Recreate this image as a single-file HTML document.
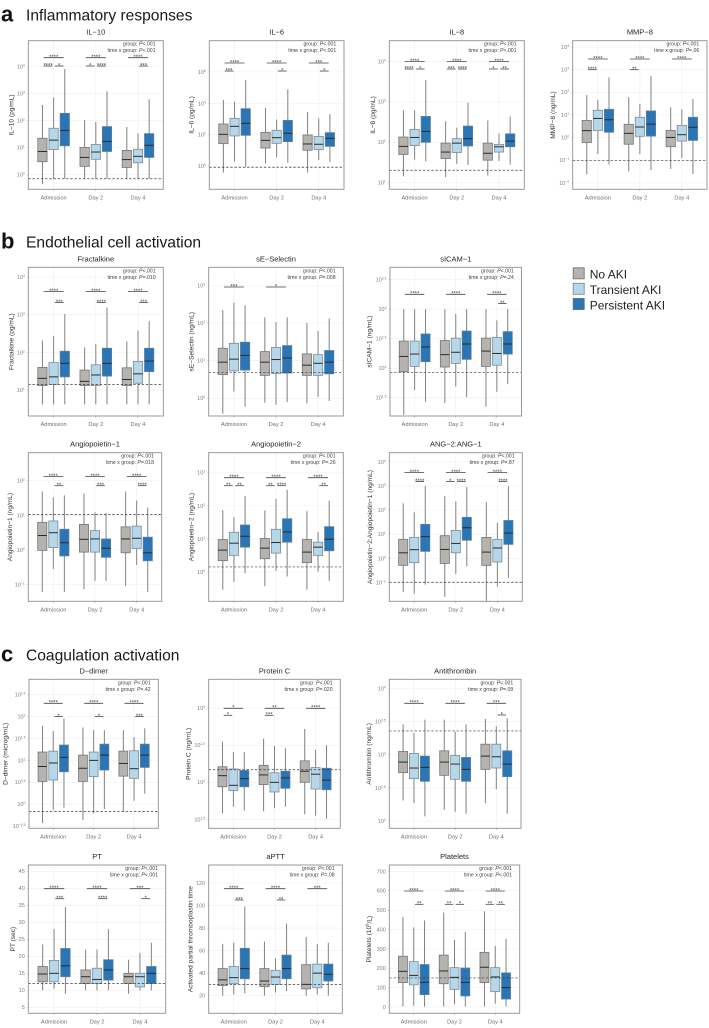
<!DOCTYPE html>
<html lang="en">
<head>
<meta charset="utf-8">
<title>AKI biomarker boxplots</title>
<style>
html,body{margin:0;padding:0;background:#fff;width:709px;height:1028px;overflow:hidden}
svg{display:block;font-family:"Liberation Sans",sans-serif}
</style>
</head>
<body>
<svg id="chart" xmlns="http://www.w3.org/2000/svg" width="709" height="1028" viewBox="0 0 709 1028">
  <text x="1" y="21.7" font-size="22" font-weight="bold" fill="#111">a</text>
  <text x="26" y="20.7" font-size="15.6" fill="#1a1a1a">Inflammatory responses</text>
  <text x="1" y="248.3" font-size="22" font-weight="bold" fill="#111">b</text>
  <text x="26" y="247.7" font-size="15.6" fill="#1a1a1a">Endothelial cell activation</text>
  <text x="1" y="661.7" font-size="22" font-weight="bold" fill="#111">c</text>
  <text x="26" y="660.7" font-size="15.6" fill="#1a1a1a">Coagulation activation</text>
  <g>
    <g>
      <rect x="573.2" y="267.8" width="11" height="11" fill="#b5b3b0" stroke="#777" stroke-width="0.9"/>
      <text x="589.7" y="278.3" font-size="12" fill="#222">No AKI</text>
    </g>
    <g>
      <rect x="573.2" y="283.3" width="11" height="11" fill="#b6d7e9" stroke="#7c8c98" stroke-width="0.9"/>
      <text x="589.7" y="294" font-size="12" fill="#222">Transient AKI</text>
    </g>
    <g>
      <rect x="573.2" y="298.5" width="11" height="11" fill="#2a75b5" stroke="#55708a" stroke-width="0.9"/>
      <text x="589.7" y="309.3" font-size="12" fill="#222">Persistent AKI</text>
    </g>
  </g>
</svg>
<script>
// Shared categories
const categories = ['Admission', 'Day 2', 'Day 4'];
const groups = ['No AKI', 'Transient AKI', 'Persistent AKI'];

// Each values array: 9 rows (3 groups within 3 categories), row = [low, q1, median, q3, high].
// *Log10 arrays hold log10 of the measurement, on a log axis.
const il10TickLog10 = [0, 1, 2, 3, 4];
const il10Ref = -0.15;
const il10Log10 = [
  [-.35,.48,.86,1.35,2.58],[-.15,.93,1.28,1.72,2.86],[-.15,1.07,1.64,2.27,3.91],
  [-.15,.31,.64,1.01,2.02],[-.15,.57,.84,1.12,1.95],[-.15,.86,1.23,1.78,3.09],
  [-.15,.27,.56,.90,1.77],[-.15,.44,.68,.94,1.53],[-.15,.64,1.09,1.52,2.79]];
const il10Sig = [['****','****','*'],['****','*','****'],['****','','***']];
const il10Stats = ['P<.001','P<.001'];

const il6TickLog10 = [0, 2, 4, 6];
const il6Ref = -0.06;
const il6Log10 = [
  [-.40,1.44,2.03,2.69,4.21],[.30,1.93,2.54,3.05,4.11],[-.02,1.97,2.73,3.66,5.48],
  [.17,1.16,1.65,2.16,3.70],[.57,1.46,1.82,2.29,2.98],[.23,1.57,2.10,2.92,4.89],
  [-.40,1.02,1.42,1.99,3.45],[.40,1.06,1.40,1.90,3.05],[.28,1.27,1.78,2.14,3.32]];
const il6Sig = [['****','***',''],['****','','*'],['***','','*']];
const il6Stats = ['P<.001','P<.001'];

const il8TickLog10 = [1, 2, 3, 4];
const il8Ref = 1.31;
const il8Log10 = [
  [1.16,1.70,1.90,2.13,2.79],[1.57,1.92,2.12,2.32,2.79],[1.53,2.00,2.27,2.64,3.54],
  [1.14,1.60,1.76,1.98,2.52],[1.47,1.75,1.98,2.09,2.36],[1.44,1.91,2.09,2.40,2.98],
  [1.18,1.56,1.73,1.98,2.54],[1.54,1.76,1.89,1.95,2.22],[1.45,1.89,2.03,2.21,2.64]];
const il8Sig = [['****','****','*'],['****','***','****'],['****','*','**']];
const il8Stats = ['P<.001','P<.001'];

const mmp8TickLog10 = [-2, -1, 0, 1, 2, 3, 4];
const mmp8Ref = -1;
const mmp8Log10 = [
  [-1.62,-.22,.31,.76,1.88],[-.72,.31,.85,1.21,1.66],[-1.19,.24,.79,1.25,2.66],
  [-1.49,-.29,.19,.59,1.79],[-.72,.06,.47,.90,1.49],[-1.43,.07,.60,1.18,2.72],
  [-1.38,-.40,.01,.32,1.34],[-.90,-.15,.13,.54,1.25],[-1.60,-.12,.46,.90,1.71]];
const mmp8Sig = [['****','****',''],['****','**',''],['****','','']];
const mmp8Stats = ['P<.001','P=.06'];

const fractalkineTickLog10 = [1, 2, 3, 4];
const fractalkineRef = 1.15;
const fractalkineLog10 = [
  [.62,1.12,1.31,1.60,2.32],[.62,1.15,1.35,1.73,2.43],[.62,1.35,1.71,2.03,3.02],
  [.62,1.12,1.23,1.53,2.13],[.62,1.12,1.40,1.67,2.22],[.62,1.37,1.71,2.11,3.19],
  [.62,1.12,1.28,1.59,2.29],[.62,1.18,1.43,1.76,2.58],[.62,1.49,1.77,2.11,2.83]];
const fractalkineSig = [['****','','***'],['****','','****'],['****','','***']];
const fractalkineStats = ['P<.001','P=.010'];

const selectinTickLog10 = [0, 1, 2, 3];
const selectinRef = 0.69;
const selectinLog10 = [
  [-.41,.63,.96,1.33,2.34],[.18,.73,1.04,1.46,2.54],[-.22,.75,1.14,1.49,2.47],
  [-.12,.61,.96,1.24,2.15],[-.17,.66,1.03,1.35,2.02],[-.10,.67,1.07,1.40,2.15],
  [-.14,.61,.88,1.18,2.00],[.04,.61,.93,1.16,1.79],[-.07,.65,.96,1.27,2.12]];
const selectinSig = [['***','',''],['*','',''],['','','']];
const selectinStats = ['P<.001','P=.008'];

const sicamTickLog10 = [1.5, 2, 2.5, 3, 3.5];
const sicamRef = 1.93;
const sicamLog10 = [
  [1.21,1.94,2.20,2.46,3.00],[1.63,2.03,2.24,2.46,3.00],[1.43,2.11,2.36,2.58,3.00],
  [1.41,2.02,2.23,2.47,3.00],[1.69,2.08,2.27,2.51,2.92],[1.51,2.15,2.41,2.63,3.00],
  [1.35,2.03,2.29,2.51,3.00],[1.60,2.05,2.25,2.52,2.81],[1.73,2.24,2.41,2.62,3.00]];
const sicamSig = [['****','',''],['****','',''],['****','','**']];
const sicamStats = ['P<.001','P=.24'];

const ang1TickLog10 = [-1, 0, 1, 2];
const ang1Ref = 1.03;
const ang1Log10 = [
  [-1.21,-.01,.42,.80,1.69],[-.55,.07,.50,.84,1.52],[-1.21,-.17,.21,.60,1.58],
  [-1.13,-.06,.31,.74,1.63],[-.89,-.06,.32,.56,1.09],[-.89,-.21,.05,.32,1.07],
  [-1.03,-.08,.32,.67,1.69],[-.43,.04,.34,.69,1.43],[-1.21,-.31,-.08,.37,1.23]];
const ang1Sig = [['****','','**'],['****','','***'],['****','','****']];
const ang1Stats = ['P<.001','P=.018'];

const ang2TickLog10 = [0, 1, 2, 3];
const ang2Ref = 0.15;
const ang2Log10 = [
  [-.54,.34,.66,.98,1.87],[-.30,.50,.87,1.20,1.66],[-.04,.75,1.08,1.42,2.30],
  [-.43,.40,.72,1.01,1.86],[.03,.57,.89,1.29,2.21],[-.14,.90,1.21,1.61,2.49],
  [-.54,.28,.60,.98,1.84],[.01,.50,.75,.90,1.21],[-.27,.64,.99,1.37,2.16]];
const ang2Sig = [['****','**','**'],['****','**','****'],['****','','**']];
const ang2Stats = ['P<.001','P=.26'];

const ratioTickLog10 = [-1, 0, 1, 2, 3, 4];
const ratioRef = -0.99;
const ratioLog10 = [
  [-1.40,-.29,.23,.79,2.28],[-1.46,-.18,.36,.87,1.91],[-1.09,.29,.90,1.41,3.00],
  [-1.60,-.21,.37,.94,2.58],[-.64,.23,.62,1.16,2.36],[-.33,.75,1.27,1.70,2.96],
  [-1.78,-.29,.26,.87,2.33],[-1.17,-.15,.43,.79,1.48],[-.81,.58,1.05,1.57,3.00]];
const ratioSig = [['****','','****'],['****','*','****'],['****','','****']];
const ratioStats = ['P<.001','P=.87'];

const ddimerTickLog10 = [-.5, 0, .5, 1, 1.5, 2, 2.5];
const ddimerRef = -0.17;
const ddimerLog10 = [
  [-.43,.52,.86,1.19,1.79],[-.13,.55,.94,1.21,1.67],[-.08,.74,1.07,1.35,1.95],
  [-.36,.52,.82,1.12,1.75],[-.21,.63,1.00,1.19,1.69],[-.11,.78,1.12,1.37,1.69],
  [-.17,.64,.93,1.21,1.69],[.08,.59,.81,1.22,1.53],[.24,.84,1.12,1.37,1.73]];
const ddimerSig = [['****','','*'],['****','','*'],['****','','***']];
const ddimerStats = ['P<.001','P=.42'];

const proteinCTickLog10 = [1.5, 2, 2.5, 3];
const proteinCRef = 2.17;
const proteinCLog10 = [
  [1.58,1.94,2.09,2.21,2.55],[1.67,1.89,1.96,2.18,2.41],[1.62,1.94,2.05,2.16,2.41],
  [1.61,1.97,2.10,2.23,2.59],[1.65,1.87,2.00,2.13,2.49],[1.67,1.92,2.06,2.15,2.46],
  [1.57,2.00,2.15,2.29,2.72],[1.55,1.91,2.11,2.20,2.44],[1.51,1.90,2.03,2.19,2.50]];
const proteinCSig = [['*','*',''],['**','***',''],['****','','']];
const proteinCStats = ['P<.001','P=.020'];

const antithrombinTickLog10 = [2, 2.5, 3, 3.5, 4];
const antithrombinRef = 3.36;
const antithrombinLog10 = [
  [2.31,2.73,2.89,3.05,3.46],[2.27,2.64,2.80,3.02,3.33],[2.07,2.60,2.81,2.98,3.53],
  [2.17,2.69,2.89,3.06,3.53],[2.14,2.63,2.86,2.99,3.35],[2.11,2.60,2.78,2.96,3.46],
  [2.27,2.78,2.98,3.16,3.54],[2.48,2.80,2.97,3.16,3.43],[2.11,2.67,2.86,3.06,3.55]];
const antithrombinSig = [['****','',''],['****','',''],['***','','*']];
const antithrombinStats = ['P<.001','P=.09'];

const ptTicks = [5, 10, 15, 20, 25, 30, 35, 40, 45];
const ptRef = 12;
const ptValues = [
  [10,12.5,14.8,17,23.5],[10.5,12.5,15,18.8,28],[9,14,17.2,22.3,34.5],
  [10,12,14,16,22],[10,12,13.2,16.5,22],[10,13,16,19,28],
  [9,12,14,15,19],[10,11,14,15,21],[10,12,15,17,24]];
const ptSig = [['****','','***'],['****','','****'],['***','','*']];
const ptStats = ['P<.001','P<.001'];

const apttTicks = [20, 40, 60, 80, 100, 120];
const apttRef = 30;
const apttValues = [
  [20,29,34,44,66],[21,30.6,36,46,67],[22,35,44,62,99],
  [20,28,33,44,68],[22.7,30,36.5,42.5,53],[24,35,44,56,84],
  [20,26,30,47.5,72],[21,27,40,48,66],[20,33,39,48,67]];
const apttSig = [['****','','***'],['****','','**'],['***','','']];
const apttStats = ['P<.001','P=.08'];

const plateletTicks = [0, 100, 200, 300, 400, 500, 600, 700];
const plateletRef = 150;
const plateletValues = [
  [3,126,184,262,465],[7,114,163,234,411],[2,64,127,219,447],
  [2,120,186,268,487],[14,91,153,203,346],[3,57,127,201,387],
  [2,126,205,282,494],[17,79,155,203,315],[3,41,100,176,353]];
const plateletSig = [['****','','**'],['****','**','*'],['****','**','**']];
const plateletStats = ['P<.001','P<.001'];

// Panel layout: frame box, y domain, bracket rows, y-title offset
const panels = [
 {id:'il-10',title:'IL−10',yTitle:'IL−10 (pg/mL)',log:true,ticks:il10TickLog10,ref:il10Ref,vals:il10Log10,sig:il10Sig,stats:il10Stats,l:28.3,r:163.3,t:40.7,b:189.3,min:-.54,max:4.96,up:17,low:25.3,tx:16.6},
 {id:'il-6',title:'IL−6',yTitle:'IL−6 (pg/mL)',log:true,ticks:il6TickLog10,ref:il6Ref,vals:il6Log10,sig:il6Sig,stats:il6Stats,l:209.3,r:344,t:40.7,b:189.3,min:-1.46,max:7.98,up:22.3,low:30.3,tx:17.6},
 {id:'il-8',title:'IL−8',yTitle:'IL−8 (pg/mL)',log:true,ticks:il8TickLog10,ref:il8Ref,vals:il8Log10,sig:il8Sig,stats:il8Stats,l:389.3,r:524.3,t:40.7,b:189.3,min:.84,max:4.51,up:20.7,low:28.3,tx:16},
 {id:'mmp-8',title:'MMP−8',yTitle:'MMP−8 (ng/mL)',log:true,ticks:mmp8TickLog10,ref:mmp8Ref,vals:mmp8Log10,sig:mmp8Sig,stats:mmp8Stats,l:572.7,r:707,t:40.7,b:189.3,min:-2.28,max:4.28,up:18.3,low:29,tx:19.4},
 {id:'fractalkine',title:'Fractalkine',yTitle:'Fractalkine (pg/mL)',log:true,ticks:fractalkineTickLog10,ref:fractalkineRef,vals:fractalkineLog10,sig:fractalkineSig,stats:fractalkineStats,l:28.3,r:163.3,t:267.3,b:416,min:.31,max:4.26,up:24.3,low:35.3,tx:16.6},
 {id:'se-selectin',title:'sE−Selectin',yTitle:'sE−Selectin (ng/mL)',log:true,ticks:selectinTickLog10,ref:selectinRef,vals:selectinLog10,sig:selectinSig,stats:selectinStats,l:208.7,r:343.3,t:267.3,b:416,min:-.47,max:3.48,up:19.7,low:30,tx:17},
 {id:'sicam-1',title:'sICAM−1',yTitle:'sICAM−1 (ng/mL)',log:true,ticks:sicamTickLog10,ref:sicamRef,vals:sicamLog10,sig:sicamSig,stats:sicamStats,l:390,r:521.5,t:267.3,b:416,min:1.19,max:3.71,up:27,low:36.3,tx:20},
 {id:'angiopoietin-1',title:'Angiopoietin−1',yTitle:'Angiopoietin−1 (ng/mL)',log:true,ticks:ang1TickLog10,ref:ang1Ref,vals:ang1Log10,sig:ang1Sig,stats:ang1Stats,l:28.3,r:161.7,t:452.7,b:601.3,min:-1.48,max:2.81,up:23.7,low:33,tx:18.3},
 {id:'angiopoietin-2',title:'Angiopoietin−2',yTitle:'Angiopoietin−2 (ng/mL)',log:true,ticks:ang2TickLog10,ref:ang2Ref,vals:ang2Log10,sig:ang2Sig,stats:ang2Stats,l:208.7,r:343.3,t:452.7,b:601.3,min:-.89,max:3.61,up:25,low:33,tx:17},
 {id:'ang-ratio',title:'ANG−2:ANG−1',yTitle:'Angiopoietin−2:Angiopoietin−1 (ng/mL)',log:true,ticks:ratioTickLog10,ref:ratioRef,vals:ratioLog10,sig:ratioSig,stats:ratioStats,l:389.3,r:522.3,t:452.7,b:601.3,min:-1.78,max:4.38,up:19.7,low:28.7,tx:19.3},
 {id:'d-dimer',title:'D−dimer',yTitle:'D−dimer (microg/mL)',log:true,ticks:ddimerTickLog10,ref:ddimerRef,vals:ddimerLog10,sig:ddimerSig,stats:ddimerStats,l:29,r:158.3,t:679.3,b:828.3,min:-.55,max:2.85,up:24,low:37.3,tx:23},
 {id:'protein-c',title:'Protein C',yTitle:'Protein C (ng/mL)',log:true,ticks:proteinCTickLog10,ref:proteinCRef,vals:proteinCLog10,sig:proteinCSig,stats:proteinCStats,l:208.7,r:340.3,t:679.3,b:828.3,min:1.38,max:3.39,up:29,low:36,tx:19.7},
 {id:'antithrombin',title:'Antithrombin',yTitle:'Antithrombin (ng/mL)',log:true,ticks:antithrombinTickLog10,ref:antithrombinRef,vals:antithrombinLog10,sig:antithrombinSig,stats:antithrombinStats,l:389.3,r:521,t:679.3,b:828.3,min:1.89,max:4.14,up:24,low:35.7,tx:20},
 {id:'pt',title:'PT',yTitle:'PT (sec)',log:false,ticks:ptTicks,ref:ptRef,vals:ptValues,sig:ptSig,stats:ptStats,l:28.3,r:165.7,t:865,b:1013.3,min:3.24,max:46.86,up:23.7,low:33.7,tx:15},
 {id:'aptt',title:'aPTT',yTitle:'Activated partial thromboplastin time',log:false,ticks:apttTicks,ref:apttRef,vals:apttValues,sig:apttSig,stats:apttStats,l:208.7,r:342.3,t:865,b:1013.3,min:4.32,max:136,up:23.7,low:35,tx:17.7},
 {id:'platelets',title:'Platelets',yTitle:'Platelets (10|9|/L)',log:false,ticks:plateletTicks,ref:plateletRef,vals:plateletValues,sig:plateletSig,stats:plateletStats,l:389.3,r:519.7,t:865,b:1013.3,min:-32.7,max:733,up:26,low:39.3,tx:20}
];

const groupFills = ['#b5b3b0', '#b6d7e9', '#2a75b5'];
const groupStrokes = ['#757575', '#7c8c98', '#5f7f9c'];
const NS = 'http://www.w3.org/2000/svg';
const root = document.getElementById('chart');

function make(tag, attrs, parent, text) {
  const el = document.createElementNS(NS, tag);
  for (const k in attrs) el.setAttribute(k, attrs[k]);
  if (text !== undefined) el.textContent = text;
  parent.appendChild(el);
  return el;
}
function expLabel(e) {
  return String(e).replace('-', '−');
}

panels.forEach(function (p) {
  const yScale = function (v) { return p.b - (v - p.min) / (p.max - p.min) * (p.b - p.t); };
  const unit = (p.r - p.l) / 3.2;
  const xScale = function (c, g) { return p.l + (c + 0.6 + (g - 1) * 0.265) * unit; };
  const boxW = 0.22 * unit;

  const g = make('g', {}, root);
  
  

  const bg = make('rect', {x:p.l, y:p.t, width:p.r - p.l, height:p.b - p.t, fill:'#fff'}, g);
  
  

  // y gridlines, ticks, labels
  p.ticks.forEach(function (v) {
    const y = yScale(v);
    const grid = make('line', {x1:p.l, x2:p.r, y1:y, y2:y, stroke:'#efefef', 'stroke-width':0.6}, g);
    
    
    const tick = make('line', {x1:p.l - 1.2, x2:p.l, y1:y, y2:y, stroke:'#aaa', 'stroke-width':0.5}, g);
    
    
    const lab = make('text', {x:p.l - 3.5, y:y + 1.9, 'text-anchor':'end', 'font-size':5.5, fill:'#7d7d7d'}, g);
    
    
    if (p.log) {
      lab.appendChild(document.createTextNode('10'));
      make('tspan', {'font-size':3.4, dy:-2}, lab, expLabel(v));
    } else {
      lab.textContent = String(v);
    }
  });

  // x gridlines, ticks, labels
  categories.forEach(function (name, c) {
    const x = xScale(c, 1);
    const grid = make('line', {x1:x, x2:x, y1:p.t, y2:p.b, stroke:'#efefef', 'stroke-width':0.6}, g);
    
    
    const tick = make('line', {x1:x, x2:x, y1:p.b, y2:p.b + 1.4, stroke:'#777', 'stroke-width':0.5}, g);
    
    
    const lab = make('text', {x:x, y:p.b + 10, 'text-anchor':'middle', 'font-size':5.7, fill:'#707070'}, g, name);
    
    
  });

  // boxes
  p.vals.forEach(function (row, i) {
    const c = Math.floor(i / 3), gr = i % 3;
    const x = xScale(c, gr);
    const box = make('g', {}, g);
    
    
    const whisker = make('line', {x1:x, x2:x, y1:yScale(row[0]), y2:yScale(row[4]), stroke:'#808080', 'stroke-width':1}, box);
    
    
    const rect = make('rect', {x:x - boxW / 2, y:yScale(row[3]), width:boxW, height:yScale(row[1]) - yScale(row[3]), fill:groupFills[gr], stroke:groupStrokes[gr], 'stroke-width':0.8}, box);
    
    
    const med = make('line', {x1:x - boxW / 2, x2:x + boxW / 2, y1:yScale(row[2]), y2:yScale(row[2]), stroke:'#2b2b2b', 'stroke-width':1}, box);
    
    
  });

  // reference line
  const ref = make('line', {x1:p.l, x2:p.r, y1:yScale(p.ref), y2:yScale(p.ref), stroke:'#3d3d3d', 'stroke-width':0.7, 'stroke-dasharray':'2.4 1.8'}, g);
  
  

  // significance brackets
  p.sig.forEach(function (row, c) {
    const spans = [[0, 2, p.up], [0, 1, p.low], [1, 2, p.low]];
    row.forEach(function (stars, k) {
      if (!stars) return;
      const s = spans[k];
      const x1 = xScale(c, s[0]) + 1.2;
      const x2 = xScale(c, s[1]) - 1.2;
      const y = p.t + s[2];
      const line = make('line', {x1:x1, x2:x2, y1:y, y2:y, stroke:'#454545', 'stroke-width':0.8}, g);
      
      
      const star = make('text', {x:(x1 + x2) / 2, y:y + 1.4, 'text-anchor':'middle', 'font-size':6, fill:'#444'}, g, stars);
      
      
    });
  });

  // frame
  const frame = make('rect', {x:p.l, y:p.t, width:p.r - p.l, height:p.b - p.t, fill:'none', stroke:'#8f8f8f', 'stroke-width':0.9}, g);
  
  

  // title
  const title = make('text', {x:(p.l + p.r) / 2, y:p.t - 6, 'text-anchor':'middle', 'font-size':7.5, fill:'#262626'}, g, p.title);
  
  

  // y title
  const ty = (p.t + p.b) / 2, tx = p.l - p.tx;
  const yt = make('text', {x:tx, y:ty, transform:'rotate(-90 ' + tx + ' ' + ty + ')', 'text-anchor':'middle', 'dominant-baseline':'middle', 'font-size':6.6, fill:'#333'}, g);
  
  
  const parts = p.yTitle.split('|');
  yt.appendChild(document.createTextNode(parts[0]));
  if (parts.length > 1) {
    make('tspan', {'font-size':4.2, dy:-2}, yt, parts[1]);
    make('tspan', {dy:2}, yt, parts[2]);
  }

  // statistics annotation
  const labels = ['group: ', 'time x group: '];
  p.stats.forEach(function (s, k) {
    const st = make('text', {x:p.r - 7.7, y:p.t + 5 + k * 6.5, 'text-anchor':'end', 'font-size':5.2, fill:'#444'}, g);
    
    
    st.appendChild(document.createTextNode(labels[k]));
    make('tspan', {'font-style':'italic'}, st, s.charAt(0));
    st.appendChild(document.createTextNode(s.slice(1)));
  });
});
</script>
</body>
</html>
